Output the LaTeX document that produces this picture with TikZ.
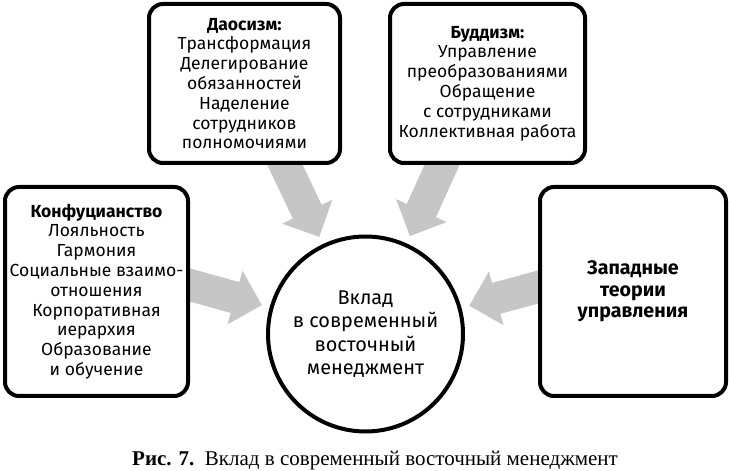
\documentclass[tikz,border=0pt]{standalone}
\usepackage{fontspec}
\setmainfont{Fira Sans}
\newfontfamily\capfont{Liberation Serif}
\usepackage{tikz}
\usetikzlibrary{arrows.meta,backgrounds}
\definecolor{arrowgray}{HTML}{C6C6C6}

\begin{document}
\begin{tikzpicture}[x=1pt, y=1pt,
    box/.style={draw, fill=white, rounded corners=14pt, line width=4pt,
                align=center, inner sep=0pt,
                font=\fontsize{17.5}{19.8}\selectfont},
    hub/.style={draw, circle, line width=4pt, minimum size=195pt,
                align=center, inner sep=0pt,
                font=\fontsize{19.9}{23.5}\selectfont},
    arr/.style={-{Triangle[length=28pt, width=54pt]}, line width=32pt,
                color=arrowgray, shorten <=-12pt, shorten >=8pt}]
  \useasboundingbox (0,0) rectangle (729,471);

  \node[box, minimum width=183pt, minimum height=209pt] (conf) at (96.5,179.5)
    {\textbf{Конфуцианство}\\Лояльность\\Гармония\\Социальные взаимо-\\отношения\\Корпоративная\\иерархия\\Образование\\и обучение};
  \node[box, minimum width=191pt, minimum height=159pt] (dao) at (244.5,387.5)
    {\textbf{Даосизм:}\\Трансформация\\Делегирование\\обязанностей\\Наделение\\сотрудников\\полномочиями};
  \node[box, minimum width=195pt, minimum height=159pt] (budd) at (487.5,387.5)
    {\textbf{Буддизм:}\\Управление\\преобразованиями\\Обращение\\с сотрудниками\\Коллективная работа};
  \node[box, minimum width=186pt, minimum height=209pt,
        font=\fontsize{19.6}{21.5}\selectfont\bfseries] (west) at (633,179.5)
    {Западные\\теории\\управления};
  \node[hub] (core) at (365.5,137)
    {Вклад\\в современный\\восточный\\менеджмент};

  \begin{scope}[on background layer]
    \draw[arr] ([yshift=6.5pt]conf.east)   -- (core);
    \draw[arr] ([xshift=40.5pt]dao.south)  -- (core);
    \draw[arr] ([xshift=-45.5pt]budd.south) -- (core);
    \draw[arr] ([yshift=4.5pt]west.west)   -- (core);
  \end{scope}

  \node[anchor=base, font=\capfont\fontsize{21}{24}\selectfont] (caption) at (375,5)
    {\textbf{Рис. 7.}\ \ Вклад в современный восточный менеджмент};
\end{tikzpicture}
\end{document}
